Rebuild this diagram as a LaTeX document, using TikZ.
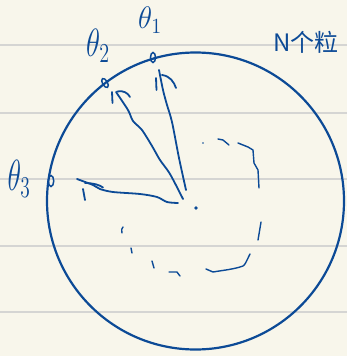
\documentclass[tikz,border=0pt]{standalone}
\usepackage{fontspec}
\newfontfamily\cjk{Noto Sans CJK SC}
\usetikzlibrary{shapes.geometric}
\definecolor{paper}{HTML}{F8F6EB}
\definecolor{ruling}{HTML}{D5D5D3}
\definecolor{ink}{HTML}{0C4A96}
\newcommand{\biglab}[3]{\scalebox{#1}[#2]{$#3$}}
\begin{document}
\begin{tikzpicture}[x=1pt,y=-1pt,
  stroke/.style={draw=ink, line width=1.8pt, line cap=round, line join=round},
  trace/.style={draw=ink, line width=1.4pt, line cap=round, line join=round},
  marker/.style={draw=ink, ellipse, line width=1.5pt, inner sep=0pt, minimum width=5pt, minimum height=10pt},
  lab/.style={text=ink, inner sep=0pt, font=\fontsize{20}{20}\selectfont}]
\fill[paper] (0,0) rectangle (347,356);
\useasboundingbox (0,0) rectangle (347,356);
\foreach \yy in {45,113,179,246,312} \draw[ruling, line width=1.4pt] (0,\yy) -- (347,\yy);

% big circle
\node[circle, draw=ink, line width=2.2pt, minimum size=297pt, inner sep=0pt] (C) at (195.5,201) {};
% centre dot
\node[circle, fill=ink, inner sep=0pt, minimum size=3.8pt] (O) at (196,208) {};

% points on the circle
\node[marker] (p1) at (153,57.5) {};
\node[marker, rotate=30] (p2) at (105,83) {};
\node[marker, minimum width=5.5pt, minimum height=11pt] (p3) at (51,181) {};

% labels
\node[lab] (t1) at (150,20) {\biglab{1.4}{1.5}{\theta_{1}}};
\node[lab] (t2) at (98,46) {\biglab{1.4}{1.9}{\theta_{2}}};
\node[lab] (t3) at (19,179) {\biglab{1.35}{2.1}{\theta_{3}}};
\node[text=ink, inner sep=0pt, font=\cjk\fontsize{24}{24}\selectfont] (N) at (306,42) {N个粒};

% rays with hand-drawn heads
\coordinate (s1) at (186,190); \coordinate (e1) at (159,70);
\draw[stroke] plot[smooth] coordinates {(s1) (179,158) (172,122) (167,105) (163,90) (e1)};
\draw[stroke] (156,78) -- (156.5,90);
\draw[stroke] (162,75) .. controls (170,76) and (174,82) .. (176,88);

\coordinate (s2) at (183,199); \coordinate (e2) at (116,92);
\draw[stroke] plot[smooth] coordinates {(s2) (170,174) (160,160) (152,146) (142,130) (133,121) (128,110) (e2)};
\draw[stroke] (112,92) -- (112.5,103);
\draw[stroke] (117,91.5) .. controls (123,90) and (128,93) .. (130,97);

\coordinate (s3) at (178,203); \coordinate (e3) at (77,179);
\draw[stroke] plot[smooth] coordinates {(s3) (167,202) (157,197) (140,194) (113,192) (100,189) (93,185) (e3)};
\draw[stroke] (85,183) .. controls (93,183) and (100,185) .. (103,187.5);
\draw[stroke] (83,189) -- (85,200);

% dashed trace of the particles
\fill[ink] (203,143) circle (0.9pt);
\draw[trace] (218,139) -- (223,140) -- (229,145);
\draw[trace] (238,143) -- (248,147) -- (253,150) -- (254,163) -- (258,170) -- (259,188);
\draw[trace] (261,222) -- (258,240);
\draw[trace] (250,254) .. controls (246,262) and (245,265) .. (243,266) .. controls (235,269) and (225,270) .. (213,272) -- (206,269);
\draw[trace] (169,272) -- (177,272) -- (180,276);
\draw[trace] (152,261) -- (154,268);
\draw[trace] (131,248) -- (132,253);
\draw[trace] (123,227) .. controls (121.5,229) .. (122,233);
\end{tikzpicture}
\end{document}
